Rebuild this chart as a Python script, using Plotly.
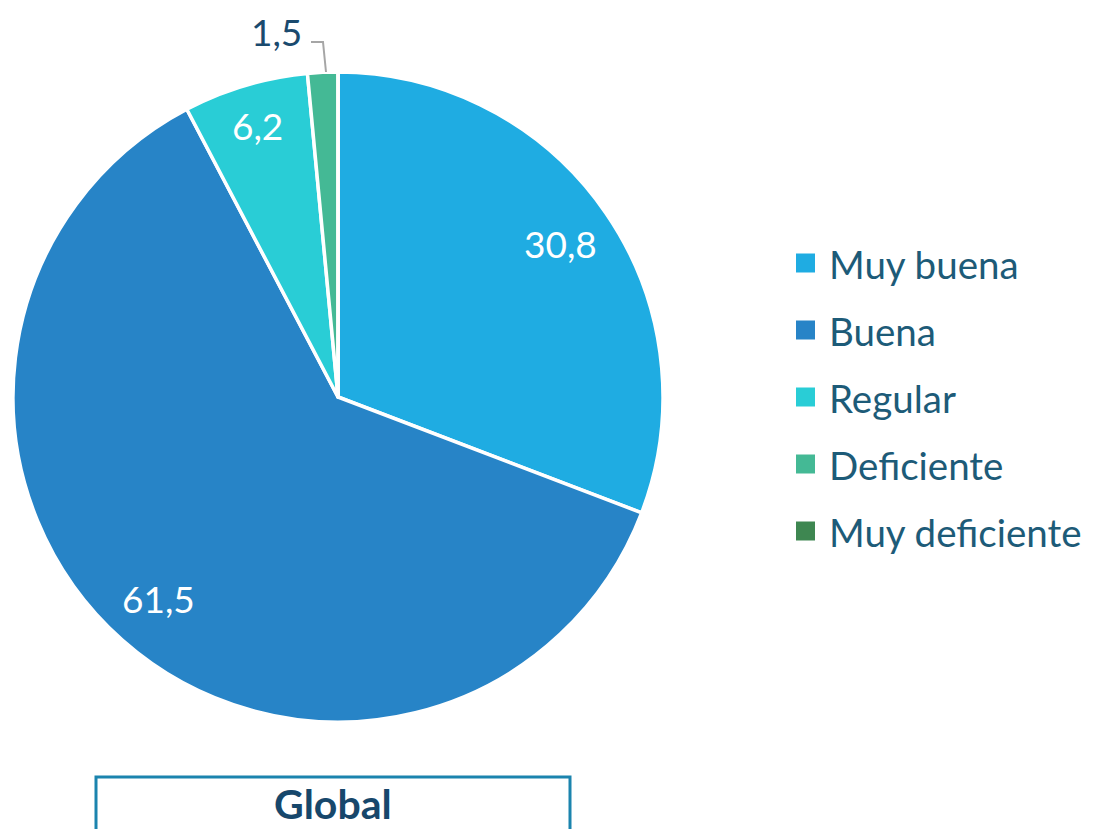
import numpy as np
import plotly.graph_objects as go

categorias = ["Muy buena", "Buena", "Regular", "Deficiente", "Muy deficiente"]
valores = [30.8, 61.5, 6.2, 1.5, 0.0]
etiquetas = ["30,8", "61,5", "6,2", "1,5", ""]
colores = ["#1FACE2", "#2784C7", "#29CDD6", "#44B995", "#3E8751"]

# the page body has an 8px margin, so the figure is drawn 8px in
OFF = 8
W, H = 1094 - OFF, 829 - OFF


def px(x):
    return (x - OFF) / W


def py(y):
    return 1 - (y - OFF) / H


cx, cy, R = 338, 397, 325

fig = go.Figure()
fig.add_trace(go.Pie(
    labels=categorias,
    values=valores,
    sort=False,
    direction="clockwise",
    rotation=0,
    textinfo="none",
    hoverinfo="label+value",
    marker=dict(colors=colores, line=dict(color="white", width=3.5)),
    domain=dict(x=[px(cx - R), px(cx + R)], y=[py(cy + R), py(cy - R)]),
    showlegend=False,
))

# data labels at the slice mid-angle
total = sum(valores)
acum = np.cumsum([0] + valores[:-1])
for v, a, txt in zip(valores, acum, etiquetas):
    if not txt:
        continue
    ang = np.deg2rad(90 - 360 * (a + v / 2) / total)
    if v < 3:
        fig.add_annotation(x=px(276), y=py(31), xref="paper", yref="paper",
                           xanchor="center", yanchor="middle",
                           text=txt, showarrow=False,
                           font=dict(size=37, color="#1A4A6E", family="Lato"))
        fig.add_shape(type="path", xref="paper", yref="paper",
                      path=f"M {px(311)},{py(42)} L {px(323)},{py(42)} L {px(326)},{py(72)}",
                      line=dict(color="#A6A6A6", width=2))
    else:
        r = (0.87 if v < 10 else 0.83) * R
        lx = cx + r * np.cos(ang)
        ly = cy - r * np.sin(ang)
        fig.add_annotation(x=px(lx), y=py(ly), xref="paper", yref="paper",
                           xanchor="center", yanchor="middle",
                           text=txt, showarrow=False,
                           font=dict(size=37, color="white", family="Lato"))

# leyenda manual
ley_y = [263, 330, 397, 464, 531]
for cat, col, yy in zip(categorias, colores, ley_y):
    fig.add_shape(type="rect", xref="paper", yref="paper",
                  x0=px(796), x1=px(815), y0=py(yy + 9.5), y1=py(yy - 9.5),
                  fillcolor=col, line=dict(width=0))
    fig.add_annotation(x=px(827), y=py(yy + 1), xref="paper", yref="paper",
                       xanchor="left", yanchor="middle",
                       text=cat, showarrow=False,
                       font=dict(size=38.5, color="#1D5B78", family="Lato"))

# caja "Global"
fig.add_shape(type="rect", xref="paper", yref="paper",
              x0=px(96), x1=px(570), y0=-0.05, y1=py(777),
              line=dict(color="#1B84AE", width=3), fillcolor="rgba(0,0,0,0)")
fig.add_annotation(x=px(333), y=py(803), xref="paper", yref="paper",
                   xanchor="center", yanchor="middle",
                   text="<b>Global</b>", showarrow=False,
                   font=dict(size=41, color="#17476B", family="Lato"))

fig.update_layout(
    width=W, height=H,
    margin=dict(l=0, r=0, t=0, b=0),
    paper_bgcolor="white",
    plot_bgcolor="white",
    font=dict(family="Lato"),
    showlegend=False,
)

fig.write_html("out.html")
